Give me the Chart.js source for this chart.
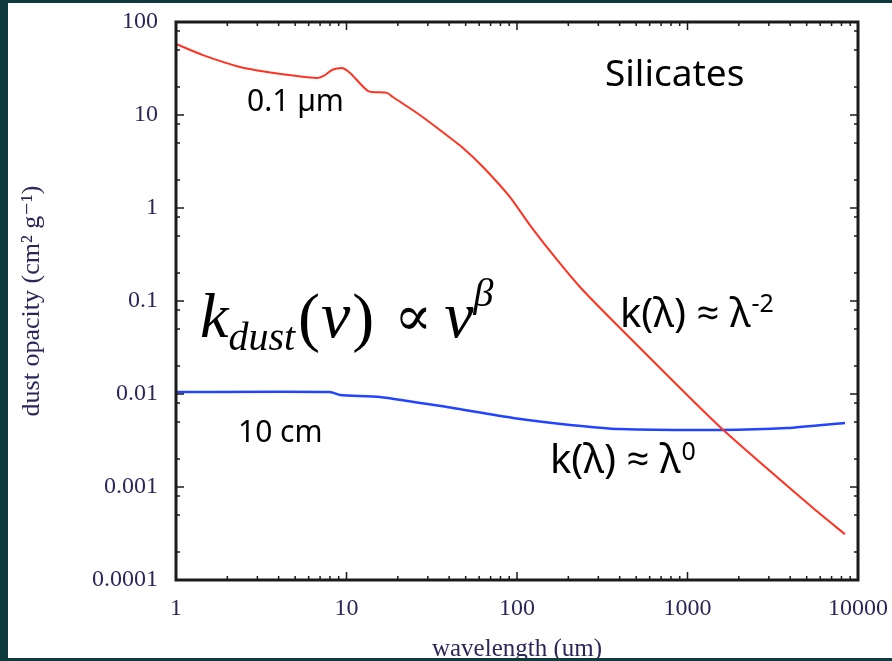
<!DOCTYPE html>
<html>
<head>
<meta charset="utf-8">
<title>Dust opacity</title>
<script src="https://cdn.jsdelivr.net/npm/chart.js@4.4.0/dist/chart.umd.min.js"></script>
<style>
  html, body { margin: 0; padding: 0; background: #0f3a3c; }
  #wrap { width: 892px; height: 661px; }
</style>
</head>
<body>
<div id="wrap"><canvas id="opacityChart" width="892" height="661"></canvas></div>
<script>
// wavelength in microns, opacity in cm^2 g^-1
const smallGrainLambda = [1, 1.44, 2.37, 3.42, 5.12, 6.71, 7.48, 8.22, 9.41, 10.5, 13.4, 17.3, 18.7, 25.9, 35.3, 48.2, 63.2, 91, 119, 172, 234, 402, 1552, 5450, 8390];
const smallGrainKappa = [58, 44, 32.8, 29, 26.2, 25, 26.9, 30.5, 32, 28.3, 18.1, 17.3, 15.6, 10.5, 6.9, 4.42, 2.76, 1.31, 0.656, 0.276, 0.1416, 0.0513, 0.00442, 0.000594, 0.00031];

const largeGrainLambda = [1, 8.0, 9.2, 15.7, 38.8, 94.8, 205, 402, 1552, 3835, 8390];
const largeGrainKappa = [0.0105, 0.0105, 0.00975, 0.0093, 0.00724, 0.00552, 0.00465, 0.0042, 0.0041, 0.0043, 0.00488];

const xTickValues = [1, 10, 100, 1000, 10000];
const yTickValues = [100, 10, 1, 0.1, 0.01, 0.001, 0.0001];

const borderColor = "#0f3a3c";
const tickColor = "#2a2858";
const serif = "'Liberation Serif', 'DejaVu Serif', serif";
const sans = "'Noto Sans', 'Open Sans', sans-serif";

const toPoints = (xs, ys) => xs.map((x, i) => ({ x: x, y: ys[i] }));

// keep the plot box fixed: no extra room for overhanging tick labels
const noScalePadding = s => {
  s.paddingTop = 0;
  s.paddingBottom = 0;
  s.paddingLeft = 0;
  s.paddingRight = 0;
};

// page background: dark edge with white panel
const panelPlugin = {
  id: "panel",
  beforeDraw(chart) {
    const ctx = chart.ctx;
    ctx.save();
    ctx.fillStyle = borderColor;
    ctx.fillRect(0, 0, chart.width, chart.height);
    ctx.fillStyle = "#ffffff";
    ctx.fillRect(8, 3, chart.width - 8, 655);
    ctx.restore();
  },
  afterDraw(chart) {
    const ctx = chart.ctx;
    ctx.save();
    ctx.fillStyle = borderColor;
    ctx.fillRect(0, 658, chart.width, chart.height - 658);
    ctx.restore();
  }
};

// boxed frame with inward log ticks on all four sides
const framePlugin = {
  id: "frame",
  afterDatasetsDraw(chart) {
    const { ctx, chartArea: a, scales: { x, y } } = chart;
    ctx.save();
    ctx.strokeStyle = "#1b1b1b";
    ctx.lineWidth = 1.5;
    ctx.beginPath();
    xTickValues.forEach((dec, i) => {
      for (let m = 1; m <= 9; m++) {
        const v = dec * m;
        if (v > x.max || (m > 1 && i === xTickValues.length - 1)) continue;
        const px = x.getPixelForValue(v);
        const len = m === 1 ? 8 : 4;
        ctx.moveTo(px, a.bottom); ctx.lineTo(px, a.bottom - len);
        ctx.moveTo(px, a.top); ctx.lineTo(px, a.top + len);
      }
    });
    yTickValues.forEach(dec => {
      [1, 2, 5, 8].forEach(m => {
        const v = dec * m;
        if (v > y.max) return;
        const py = y.getPixelForValue(v);
        const len = m === 1 ? 8 : 4;
        ctx.moveTo(a.left, py); ctx.lineTo(a.left + len, py);
        ctx.moveTo(a.right, py); ctx.lineTo(a.right - len, py);
      });
    });
    ctx.stroke();
    ctx.lineWidth = 3;
    ctx.strokeRect(a.left, a.top, a.right - a.left, a.bottom - a.top);
    ctx.restore();
  }
};

// text with a raised exponent
function drawPower(ctx, base, exp, x, baseline, size, expSize, rise) {
  ctx.font = size + "px " + sans;
  ctx.fillText(base, x, baseline);
  const w = ctx.measureText(base).width;
  ctx.font = expSize + "px " + sans;
  ctx.fillText(exp, x + w + 1, baseline - rise);
}

function drawFormula(ctx, x, baseline) {
  const parts = [
    { t: "k", f: "italic 64px", dy: 0, gap: 0 },
    { t: "dust", f: "italic 40px", dy: 13, gap: 3 },
    { t: "(", f: "66px", dy: 2, gap: 1 },
    { t: "\u03bd", f: "italic 66px", dy: 0, gap: 2 },
    { t: ")", f: "66px", dy: 2, gap: 20 },
    { t: "\u221d", f: "56px", dy: -2, gap: 12 },
    { t: "\u03bd", f: "italic 66px", dy: 0, gap: 0 },
    { t: "\u03b2", f: "italic 40px", dy: -31, gap: 0 }
  ];
  let cx = x;
  parts.forEach(p => {
    ctx.font = p.f + " " + serif;
    ctx.fillText(p.t, cx, baseline + p.dy);
    cx += ctx.measureText(p.t).width + p.gap;
  });
}

const labelPlugin = {
  id: "labels",
  afterDatasetsDraw(chart) {
    const ctx = chart.ctx;
    ctx.save();
    ctx.fillStyle = "#000000";
    ctx.textBaseline = "alphabetic";
    ctx.textAlign = "left";
    ctx.font = "37px " + sans;
    ctx.fillText("Silicates", 605, 86);
    ctx.font = "30px " + sans;
    ctx.fillText("0.1 \u00b5m", 247, 111);
    ctx.fillText("10 cm", 238, 442);
    drawPower(ctx, "k(\u03bb) \u2248 \u03bb", "-2", 620, 327, 40, 25, 15);
    drawPower(ctx, "k(\u03bb) \u2248 \u03bb", "0", 550, 473, 40, 25, 13);
    drawFormula(ctx, 200, 337);
    ctx.restore();
  }
};

new Chart(document.getElementById("opacityChart"), {
  type: "line",
  data: {
    datasets: [
      {
        label: "0.1 \u00b5m",
        data: toPoints(smallGrainLambda, smallGrainKappa),
        borderColor: "#ff3322",
        borderWidth: 2,
        pointRadius: 0,
        tension: 0.2
      },
      {
        label: "10 cm",
        data: toPoints(largeGrainLambda, largeGrainKappa),
        borderColor: "#2244ff",
        borderWidth: 2.5,
        pointRadius: 0,
        tension: 0.2
      }
    ]
  },
  options: {
    responsive: false,
    animation: false,
    events: [],
    layout: { padding: { left: 0, top: 22, right: 34, bottom: 0 } },
    plugins: {
      legend: { display: false },
      tooltip: { enabled: false }
    },
    scales: {
      x: {
        type: "logarithmic",
        min: 1,
        max: 10000,
        afterBuildTicks: s => { s.ticks = xTickValues.map(v => ({ value: v })); },
        afterFit: s => { s.height = 81; noScalePadding(s); },
        grid: { display: false },
        border: { display: false },
        ticks: {
          autoSkip: false,
          maxRotation: 0,
          padding: 6,
          color: tickColor,
          font: { family: serif, size: 24 },
          callback: v => String(v)
        },
        title: {
          display: true,
          text: "wavelength (um)",
          color: tickColor,
          font: { family: serif, size: 25 },
          padding: { top: 0, bottom: -3 }
        }
      },
      y: {
        type: "logarithmic",
        min: 0.0001,
        max: 100,
        afterBuildTicks: s => { s.ticks = yTickValues.map(v => ({ value: v })); },
        afterFit: s => { s.width = 176; noScalePadding(s); },
        grid: { display: false },
        border: { display: false },
        ticks: {
          autoSkip: false,
          padding: 10,
          color: tickColor,
          font: { family: serif, size: 24 },
          callback: v => String(v)
        },
        title: {
          display: true,
          text: "dust opacity (cm\u00b2 g\u207b\u00b9)",
          color: tickColor,
          font: { family: serif, size: 26 },
          padding: { top: 17, bottom: 0 }
        }
      }
    }
  },
  plugins: [panelPlugin, framePlugin, labelPlugin]
});
</script>
</body>
</html>
